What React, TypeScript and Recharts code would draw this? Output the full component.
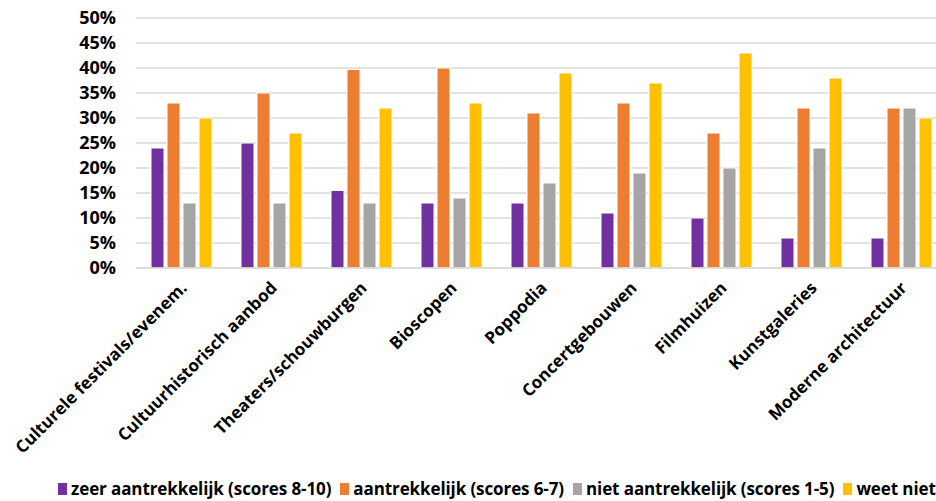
import { BarChart, Bar, XAxis, YAxis, CartesianGrid } from 'recharts';

const categories = [
  'Culturele festivals/evenem.',
  'Cultuurhistorisch aanbod',
  'Theaters/schouwburgen',
  'Bioscopen',
  'Poppodia',
  'Concertgebouwen',
  'Filmhuizen',
  'Kunstgaleries',
  'Moderne architectuur',
];
const zeerAantrekkelijk = [24, 25, 15.5, 13, 13, 11, 10, 6, 6];
const aantrekkelijk = [33, 35, 39.7, 40, 31, 33, 27, 32, 32];
const nietAantrekkelijk = [13, 13, 13, 14, 17, 19, 20, 24, 32];
const weetNiet = [30, 27, 32, 33, 39, 37, 43, 38, 30];
const yTicks = [0, 5, 10, 15, 20, 25, 30, 35, 40, 45, 50];

const series = [
  { key: 'zeer', name: 'zeer aantrekkelijk (scores 8-10)', color: '#7030A0' },
  { key: 'aantr', name: 'aantrekkelijk (scores 6-7)', color: '#ED7D31' },
  { key: 'niet', name: 'niet aantrekkelijk (scores 1-5)', color: '#A5A5A5' },
  { key: 'weet', name: 'weet niet', color: '#FFC000' },
];

const data = categories.map((c, i) => ({
  name: c,
  zeer: zeerAantrekkelijk[i],
  aantr: aantrekkelijk[i],
  niet: nietAantrekkelijk[i],
  weet: weetNiet[i],
}));

const font = '"Open Sans", Lato, sans-serif';

function CatTick({ x, y, payload }: any) {
  return (
    <text
      x={x + 7}
      y={y + 13}
      transform={`rotate(-45 ${x + 7} ${y + 13})`}
      textAnchor="end"
      fontFamily={font}
      fontWeight={700}
      fontSize={17}
      fill="#000"
    >
      {payload.value}
    </text>
  );
}

function Legend() {
  return (
    <div
      style={{
        position: 'absolute',
        left: 58,
        top: 479,
        height: 20,
        display: 'flex',
        alignItems: 'center',
        fontFamily: font,
        fontWeight: 700,
        fontSize: 17,
        lineHeight: '20px',
        letterSpacing: -0.1,
        color: '#000',
        whiteSpace: 'nowrap',
      }}
    >
      {series.map((s) => (
        <span key={s.key} style={{ display: 'flex', alignItems: 'center', marginRight: 9 }}>
          <span style={{ width: 9, height: 12, background: s.color, display: 'inline-block', marginRight: 4 }} />
          {s.name}
        </span>
      ))}
    </div>
  );
}

export default function App() {
  return (
    <div style={{ position: 'absolute', left: 0, top: 0, width: 936, height: 501, overflow: 'hidden', background: '#fff' }}>
      <BarChart
        width={946}
        height={478}
        data={data}
        margin={{ top: 18, right: 0, left: 0, bottom: 0 }}
        barSize={13}
        barGap={3}
      >
        <CartesianGrid vertical={false} stroke="#D9D9D9" strokeWidth={1.5} />
        <XAxis
          dataKey="name"
          interval={0}
          tick={<CatTick />}
          tickLine={false}
          axisLine={{ stroke: '#D9D9D9', strokeWidth: 1.5 }}
          height={210}
        />
        <YAxis
          domain={[0, 50]}
          ticks={yTicks}
          interval={0}
          tickFormatter={(v) => `${v}%`}
          width={136}
          axisLine={false}
          tickLine={false}
          tickMargin={14}
          tick={{ fontFamily: font, fontWeight: 700, fontSize: 18, fill: '#000' }}
        />
        {series.map((s) => (
          <Bar key={s.key} dataKey={s.key} name={s.name} fill={s.color} stroke="#fff" strokeWidth={1} isAnimationActive={false} />
        ))}
      </BarChart>
      <Legend />
    </div>
  );
}
